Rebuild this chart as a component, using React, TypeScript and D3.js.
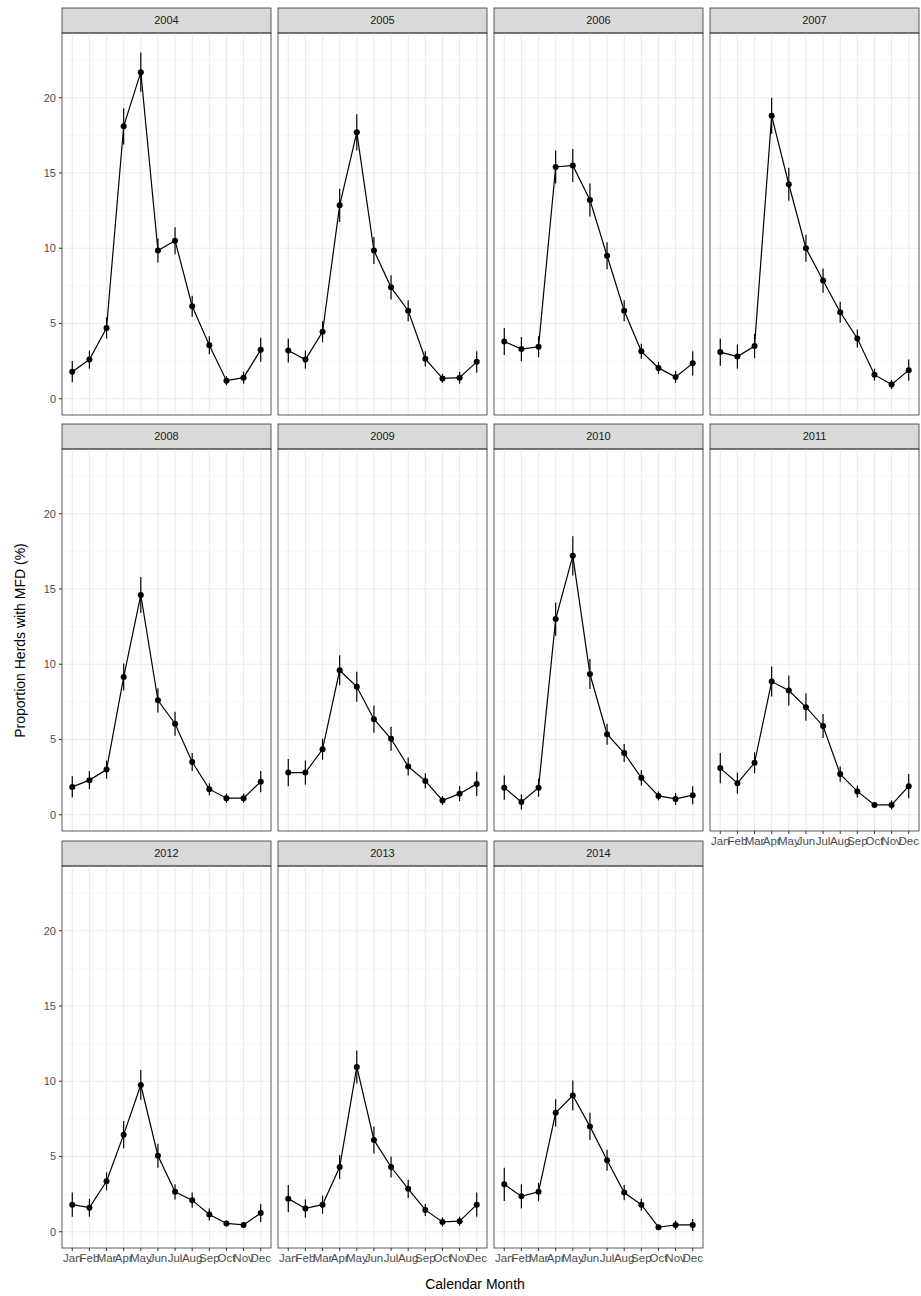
import React from 'react';
import * as d3 from 'd3';

const months = ['Jan', 'Feb', 'Mar', 'Apr', 'May', 'Jun', 'Jul', 'Aug', 'Sep', 'Oct', 'Nov', 'Dec'];
const years = ['2004', '2005', '2006', '2007', '2008', '2009', '2010', '2011', '2012', '2013', '2014'];

const values: number[][] = [
  [1.8, 2.6, 4.7, 18.1, 21.7, 9.85, 10.5, 6.15, 3.55, 1.2, 1.4, 3.25],
  [3.2, 2.6, 4.45, 12.85, 17.7, 9.85, 7.4, 5.85, 2.65, 1.35, 1.4, 2.45],
  [3.8, 3.3, 3.45, 15.4, 15.5, 13.2, 9.5, 5.85, 3.15, 2.05, 1.45, 2.35],
  [3.1, 2.8, 3.5, 18.8, 14.25, 10.0, 7.85, 5.75, 4.0, 1.6, 0.95, 1.9],
  [1.85, 2.3, 3.0, 9.15, 14.6, 7.6, 6.05, 3.5, 1.7, 1.1, 1.1, 2.2],
  [2.8, 2.8, 4.35, 9.6, 8.5, 6.35, 5.05, 3.2, 2.25, 0.95, 1.4, 2.05],
  [1.8, 0.85, 1.8, 13.0, 17.2, 9.35, 5.35, 4.1, 2.45, 1.25, 1.05, 1.3],
  [3.1, 2.1, 3.45, 8.85, 8.25, 7.15, 5.9, 2.7, 1.55, 0.65, 0.65, 1.9],
  [1.8, 1.6, 3.35, 6.45, 9.75, 5.05, 2.65, 2.1, 1.15, 0.55, 0.45, 1.25],
  [2.2, 1.55, 1.8, 4.3, 10.95, 6.1, 4.3, 2.85, 1.45, 0.65, 0.7, 1.8],
  [3.15, 2.35, 2.65, 7.9, 9.05, 7.0, 4.75, 2.6, 1.8, 0.3, 0.45, 0.45],
];

const errors: number[][] = [
  [0.7, 0.6, 0.7, 1.2, 1.3, 0.8, 0.9, 0.7, 0.6, 0.3, 0.4, 0.8],
  [0.8, 0.6, 0.7, 1.1, 1.2, 0.9, 0.8, 0.7, 0.5, 0.3, 0.4, 0.7],
  [0.9, 0.8, 0.7, 1.1, 1.1, 1.1, 0.9, 0.7, 0.5, 0.4, 0.4, 0.8],
  [0.9, 0.8, 0.8, 1.2, 1.1, 0.9, 0.8, 0.7, 0.6, 0.4, 0.3, 0.7],
  [0.7, 0.6, 0.6, 0.9, 1.2, 0.8, 0.8, 0.6, 0.4, 0.3, 0.3, 0.7],
  [0.9, 0.8, 0.7, 1.0, 1.0, 0.9, 0.8, 0.6, 0.5, 0.3, 0.5, 0.8],
  [0.8, 0.5, 0.6, 1.1, 1.3, 1.0, 0.7, 0.6, 0.5, 0.3, 0.4, 0.6],
  [1.0, 0.7, 0.7, 1.0, 1.0, 0.9, 0.8, 0.5, 0.4, 0.2, 0.3, 0.8],
  [0.8, 0.6, 0.6, 0.9, 1.0, 0.8, 0.5, 0.5, 0.4, 0.2, 0.2, 0.6],
  [0.9, 0.6, 0.6, 0.8, 1.1, 0.9, 0.7, 0.6, 0.4, 0.3, 0.3, 0.8],
  [1.1, 0.8, 0.6, 0.9, 1.0, 0.9, 0.7, 0.5, 0.4, 0.15, 0.3, 0.4],
];

const yTicks = [0, 5, 10, 15, 20];
const yMinor = [2.5, 7.5, 12.5, 17.5, 22.5];

const W = 921, H = 1296;
const colX = [62, 278, 494, 710];
const panelW = 209;
const rowY = [8, 424, 841];
const stripH = 25;
const plotH = 382;

export default function App() {
  const x = d3.scalePoint<string>().domain(months).range([0, panelW]).padding(0.6);
  const y = d3.scaleLinear().domain([-1.08, 24.3]).range([plotH, 0]);
  const line = d3.line<number>().x((_, i) => x(months[i])!).y(d => y(d));
  const font = 'Liberation Sans, Arial, sans-serif';

  return (
    <svg width={W} height={H} style={{ position: 'absolute', left: 0, top: 0 }} fontFamily={font}>
      <rect width={W} height={H} fill="#fff" />
      {years.map((yr, k) => {
        const col = k % 4, row = Math.floor(k / 4);
        const px = colX[col], py = rowY[row] + stripH;
        const bottom = k + 4 >= years.length;
        return (
          <g key={yr}>
            <rect x={px} y={rowY[row]} width={panelW} height={stripH} fill="#d9d9d9" stroke="#333" strokeWidth={0.8} />
            <text x={px + panelW / 2} y={rowY[row] + stripH / 2} dy="0.35em" textAnchor="middle" fontSize={11} fill="#1a1a1a">{yr}</text>
            <g transform={`translate(${px},${py})`}>
              {yMinor.map(t => <line key={'m' + t} x1={0} x2={panelW} y1={y(t)} y2={y(t)} stroke="#f2f2f2" strokeWidth={0.6} />)}
              {yTicks.map(t => <line key={'g' + t} x1={0} x2={panelW} y1={y(t)} y2={y(t)} stroke="#ebebeb" strokeWidth={1.1} />)}
              {months.map(m => <line key={'v' + m} x1={x(m)} x2={x(m)} y1={0} y2={plotH} stroke="#ebebeb" strokeWidth={1.1} />)}
              {values[k].map((v, i) => (
                <line key={'e' + i} x1={x(months[i])} x2={x(months[i])} y1={y(v - errors[k][i])} y2={y(v + errors[k][i])} stroke="#000" strokeWidth={1.2} />
              ))}
              <path d={line(values[k])!} fill="none" stroke="#000" strokeWidth={1.2} />
              {values[k].map((v, i) => <circle key={'c' + i} cx={x(months[i])} cy={y(v)} r={3} fill="#000" />)}
              <rect x={0} y={0} width={panelW} height={plotH} fill="none" stroke="#333" strokeWidth={0.8} />
              {col === 0 && yTicks.map(t => (
                <g key={'yt' + t}>
                  <line x1={-3} x2={0} y1={y(t)} y2={y(t)} stroke="#333" />
                  <text x={-6} y={y(t)} dy="0.35em" textAnchor="end" fontSize={11} fill="#4d4d4d">{t}</text>
                </g>
              ))}
              {bottom && months.map(m => (
                <g key={'xt' + m}>
                  <line x1={x(m)} x2={x(m)} y1={plotH} y2={plotH + 3} stroke="#333" />
                  <text x={x(m)} y={plotH + 14} textAnchor="middle" fontSize={11.5} fill="#4d4d4d">{m}</text>
                </g>
              ))}
            </g>
          </g>
        );
      })}
      <text x={475} y={1289} textAnchor="middle" fontSize={14} fill="#000">Calendar Month</text>
      <text transform={`translate(25,${(33 + 1248) / 2}) rotate(-90)`} textAnchor="middle" fontSize={14} fill="#000">Proportion Herds with MFD (%)</text>
    </svg>
  );
}
